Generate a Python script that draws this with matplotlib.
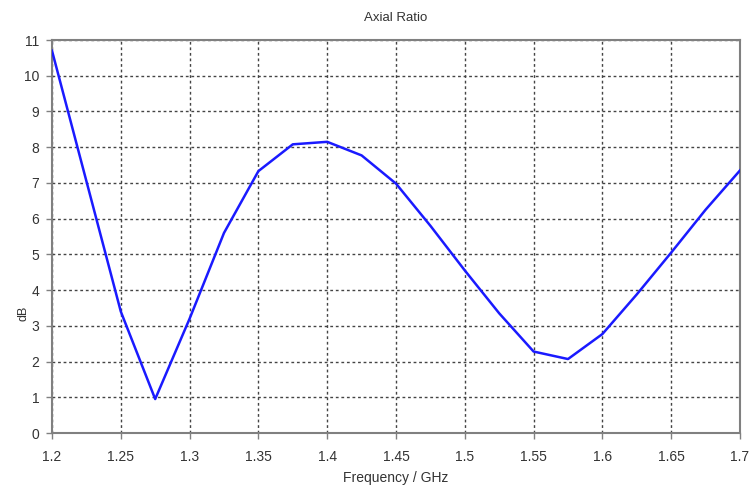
import matplotlib
matplotlib.use("Agg")
import matplotlib.pyplot as plt

freq = [1.2, 1.225, 1.25, 1.275, 1.3, 1.325, 1.35, 1.375, 1.4, 1.425, 1.45,
        1.475, 1.5, 1.525, 1.55, 1.575, 1.6, 1.625, 1.65, 1.675, 1.7]
axial_ratio = [10.7, 7.05, 3.4, 0.95, 3.2, 5.6, 7.33, 8.08, 8.15, 7.77, 6.98,
               5.8, 4.55, 3.35, 2.28, 2.07, 2.77, 3.88, 5.05, 6.25, 7.35]
xticks = [1.2, 1.25, 1.3, 1.35, 1.4, 1.45, 1.5, 1.55, 1.6, 1.65, 1.7]
xticklabels = ["1.2", "1.25", "1.3", "1.35", "1.4", "1.45", "1.5", "1.55", "1.6", "1.65", "1.7"]
yticks = list(range(0, 12))

plt.rcParams['font.family'] = ['Liberation Sans', 'DejaVu Sans']
fig = plt.figure(figsize=(7.53, 4.90), dpi=100)
ax = fig.add_axes([52/753, 57/490, (740-52)/753, (433-40)/490])
ax.plot(freq, axial_ratio, color='#1a1aff', linewidth=1.8, zorder=3)
ax.set_xlim(1.2, 1.7)
ax.set_ylim(0, 11)
ax.set_xticks(xticks)
ax.set_xticklabels(xticklabels)
ax.set_yticks(yticks)
ax.grid(True, color='#444444', linestyle=(0, (2, 2)), linewidth=1.0)
for s in ax.spines.values():
    s.set_color('#808080')
    s.set_linewidth(1.5)
ax.tick_params(direction='out', length=4, width=1, colors='#808080', labelcolor='#333333', labelsize=10)
ax.tick_params(axis='x', pad=8)
ax.tick_params(axis='y', pad=5)
ax.set_title("Axial Ratio", fontsize=9.5, color='#333333', pad=14)
ax.set_xlabel("Frequency / GHz", fontsize=10, color='#333333', labelpad=5)
ax.set_ylabel("dB", fontsize=9, color='#333333')
ax.yaxis.set_label_coords(-0.032, 0.305)
fig.savefig("out.png", dpi=100)
